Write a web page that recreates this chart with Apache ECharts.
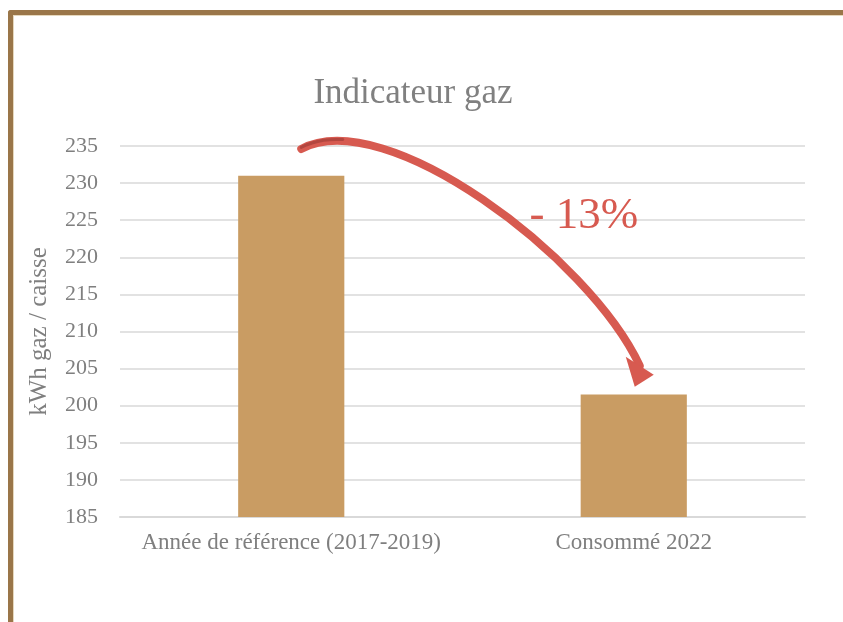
<!DOCTYPE html>
<html style="height: 100%">
<head>
<meta charset="UTF-8">
<title>Indicateur gaz</title>
<script src="https://cdn.jsdelivr.net/npm/echarts@6/dist/echarts.min.js"></script>
<style>
  body { margin: 0; width: 843px; height: 622px; position: relative; background: #fff; overflow: hidden; }
  #frame { position: absolute; left: 8px; top: 10px; right: -10px; bottom: -10px;
           border-top: 5px solid #9a7649; border-left: 5px solid #9a7649; border-top-left-radius: 3px; }
  #inner { position: absolute; left: 13px; top: 15px; right: -10px; bottom: -10px;
           border-top: 1px solid #e6d8bd; border-left: 1px solid #e6d8bd; }
  #container { position: absolute; left: 0; top: 0; width: 843px; height: 622px; }
</style>
</head>
<body>
<div id="frame"></div>
<div id="inner"></div>
<div id="container"></div>
<script type="text/javascript">
var categories = ['Année de référence (2017-2019)', 'Consommé 2022'];
var values = [231, 201.5];
var yMin = 185, yMax = 235, yStep = 5;
var changeLabel = '- 13%';

var serif = '"Liberation Serif", "DejaVu Serif", serif';
var grey = '#7f7f7f';
var red = '#d75a50';

var myChart = echarts.init(document.getElementById('container'));
var option = {
  animation: false,
  title: {
    text: 'Indicateur gaz',
    left: 408,
    top: 71,
    textAlign: 'center',
    textStyle: { fontFamily: serif, fontSize: 35, fontWeight: 'normal', color: '#808080' }
  },
  grid: { left: 120, right: 38, top: 146, bottom: 105 },
  xAxis: {
    type: 'category',
    data: categories,
    axisLine: { lineStyle: { color: '#d9d9d9', width: 2 } },
    axisTick: { show: false },
    axisLabel: { interval: 0, margin: 14, fontFamily: serif, fontSize: 23, color: grey }
  },
  yAxis: {
    type: 'value',
    min: yMin,
    max: yMax,
    interval: yStep,
    name: 'kWh gaz / caisse',
    nameLocation: 'middle',
    nameGap: 68,
    nameTextStyle: { fontFamily: serif, fontSize: 25, color: grey },
    axisLine: { show: false },
    axisTick: { show: false },
    axisLabel: { margin: 22, fontFamily: serif, fontSize: 22, color: grey },
    splitLine: { lineStyle: { color: '#e2e2e2', width: 2 } }
  },
  series: [{
    type: 'bar',
    data: values,
    barWidth: '31%',
    itemStyle: { color: '#c99c63' }
  }]
};
myChart.setOption(option);

// curved arrow from the first bar top to the second, anchored through the chart's scales
function drawArrow() {
  var a = myChart.convertToPixel({ seriesIndex: 0 }, [0, values[0] + 3.6]);
  var b = myChart.convertToPixel({ seriesIndex: 0 }, [1, values[1] + 3.9]);
  var s = [a[0] + 10, a[1]];
  var e = [b[0] + 6, b[1]];
  var c1 = [s[0] + 84, s[1] - 45];
  var c2 = [e[0] - 51, e[1] - 109];
  function pt(t) {
    var u = 1 - t;
    return [
      u * u * u * s[0] + 3 * u * u * t * c1[0] + 3 * u * t * t * c2[0] + t * t * t * e[0],
      u * u * u * s[1] + 3 * u * u * t * c1[1] + 3 * u * t * t * c2[1] + t * t * t * e[1]
    ];
  }
  var hook = [];
  for (var t = 0.0; t <= 0.14; t += 0.02) {
    var p = pt(t);
    hook.push([p[0], p[1] - 1.5]);
  }
  var head = [[e[0] - 14, e[1] - 9], [e[0] + 14, e[1] + 9], [e[0] - 5, e[1] + 21]];
  myChart.setOption({
    graphic: [
      {
        type: 'bezierCurve',
        shape: { x1: s[0], y1: s[1], x2: e[0], y2: e[1], cpx1: c1[0], cpy1: c1[1], cpx2: c2[0], cpy2: c2[1] },
        style: { stroke: red, lineWidth: 8, fill: null, lineCap: 'round' },
        z: 10
      },
      {
        type: 'polyline',
        shape: { points: hook },
        style: { stroke: '#b3463f', lineWidth: 3, fill: null, lineCap: 'round' },
        z: 11
      },
      {
        type: 'polygon',
        shape: { points: head },
        style: { fill: red },
        z: 10
      },
      {
        type: 'text',
        x: myChart.convertToPixel({ seriesIndex: 0 }, [1, yMin])[0] - 50,
        y: myChart.convertToPixel({ seriesIndex: 0 }, [1, 225.6])[1],
        style: { text: changeLabel, fontFamily: serif, fontSize: 45, fill: red, align: 'center', verticalAlign: 'middle' },
        z: 12
      }
    ]
  });
}
drawArrow();
</script>
</body>
</html>
